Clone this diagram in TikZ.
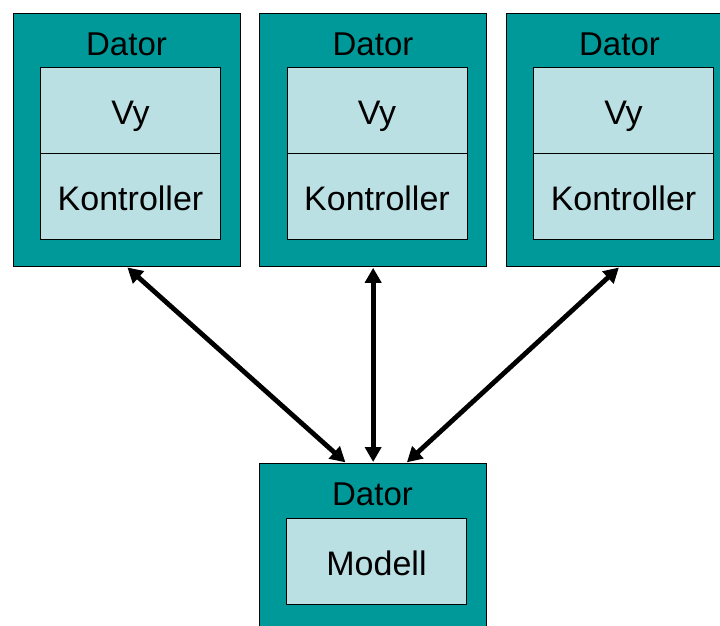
\documentclass[tikz,border=0pt]{standalone}
\usepackage{fontspec}
\setmainfont{Liberation Sans}
\usetikzlibrary{arrows.meta,calc}
\definecolor{teal}{HTML}{009999}
\definecolor{pale}{HTML}{BBE0E3}
\tikzset{
  outerbox/.style={draw=black, line width=1.3pt, fill=teal, minimum width=227pt, minimum height=253pt, inner sep=0pt, anchor=north west},
  innerbox/.style={draw=black, line width=1pt, fill=pale, minimum width=180pt, minimum height=86pt, inner sep=0pt, text height=28pt, text depth=0pt, anchor=north west, font=\fontsize{34}{40}\selectfont},
  title/.style={font=\fontsize{33}{38}\selectfont, inner sep=0pt},
  link/.style={line width=4.8pt, {Triangle[length=15pt,width=16pt]}-{Triangle[length=15pt,width=16pt]}, shorten <=1pt, shorten >=1pt}
}
\begin{document}
\begin{tikzpicture}[x=1pt,y=-1pt]
\useasboundingbox (0,0) rectangle (720,625);
\clip (0,0) rectangle (720,625);
% three client computers, each with a view and a controller
\foreach \name/\dx in {a/0, b/246.5, c/493} {
  \node[outerbox] (\name) at (12.5+\dx,12.5) {};
  \node[title] (\name t) at (126.5+\dx,44) {Dator};
  \node[innerbox] (\name v) at (40+\dx,67) {Vy};
  \node[innerbox] (\name k) at (40+\dx,153) {Kontroller};
}
% server computer holding the model
\node[outerbox] (m) at (259,463) {};
\node[title] (mt) at (372.5,494) {Dator};
\node[innerbox] (mm) at (286,518) {Modell};
% connections between clients and server
\coordinate (mL) at ($(m.north)+(-27,0)$);
\coordinate (mR) at ($(m.north)+(33,0)$);
\draw[link] (a.south) -- (mL);
\draw[link] (b.south) -- (m.north);
\draw[link] (c.south) -- (mR);
\end{tikzpicture}
\end{document}
